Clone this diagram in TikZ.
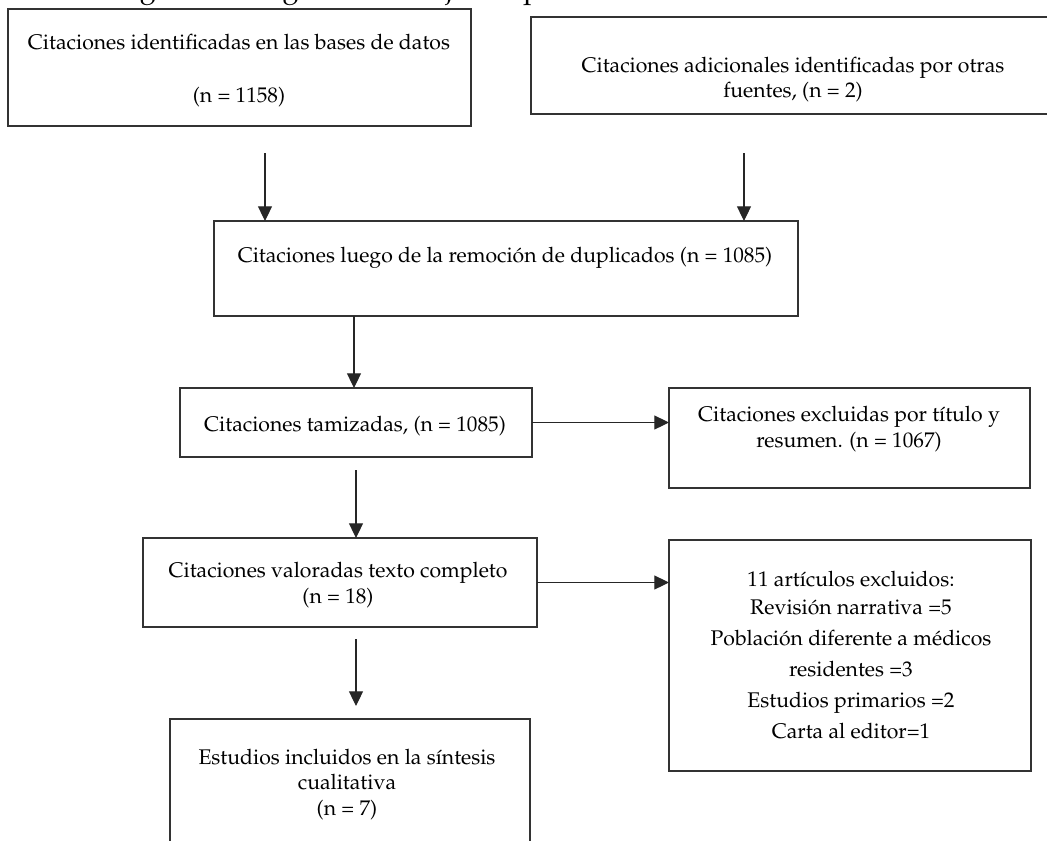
\documentclass[tikz,border=0pt]{standalone}
\usepackage[T1]{fontenc}
\usepackage{mathpazo}
\usetikzlibrary{arrows.meta,fit}
\begin{document}
\begin{tikzpicture}[x=0.75pt,y=-0.75pt,
  box/.style={draw=black!80, line width=0.8pt, inner sep=0pt, outer sep=0pt},
  lbl/.style={inner sep=0pt, anchor=base, font=\fontsize{15.9}{19}\selectfont, text=black},
  ttl/.style={inner sep=0pt, anchor=base west, font=\fontsize{21.75}{26}\selectfont, text=black},
  arr/.style={draw=black!85, line width=0.8pt, -{Triangle[width=10.5pt,length=11pt]}}
]
\useasboundingbox (0,0) rectangle (1047,840);
\clip (0,0) rectangle (1047,840);

% cut-off title
\node[ttl] (title) at (115,-3) {Figura 1. Diagrama de flujo del proceso de selecci\'on art\'{\i}culos};

% boxes
\node[box, fit={(8,9) (471,126)}] (t1) {};
\node[box, fit={(531,17) (1060,114)}] (t2) {};
\node[box, fit={(214,221) (798,316)}] (mid) {};
\node[box, fit={(180,388) (532,457)}] (tam) {};
\node[box, fit={(669,388) (1030,488)}] (ex1) {};
\node[box, fit={(143,538) (537,627)}] (val) {};
\node[box, fit={(669,540) (1031,771)}] (ex2) {};
\node[box, fit={(170,719) (530,860)}] (fin) {};

% texts
\node[lbl] (t1a) at (239,49) {Citaciones identificadas en las bases de datos};
\node[lbl] (t1b) at (239,102) {(n = 1158)};
\node[lbl] (t2a) at (793,72) {Citaciones adicionales identificadas por otras};
\node[lbl] (t2b) at (793,97) {fuentes, (n = 2)};
\node[lbl] (mida) at (505,262) {Citaciones luego de la remoci\'on de duplicados (n = 1085)};
\node[lbl] (tama) at (355,431) {Citaciones tamizadas, (n = 1085)};
\node[lbl] (ex1a) at (849,421) {Citaciones excluidas por t\'{\i}tulo y};
\node[lbl] (ex1b) at (849,447) {resumen. (n = 1067)};
\node[lbl] (vala) at (338,577) {Citaciones valoradas texto completo};
\node[lbl] (valb) at (338,603) {(n = 18)};
\node[lbl] (ex2a) at (851,586) {11 art\'{\i}culos excluidos:};
\node[lbl] (ex2b) at (851,614) {Revisi\'on narrativa =5};
\node[lbl] (ex2c) at (851,645) {Poblaci\'on diferente a m\'edicos};
\node[lbl] (ex2d) at (851,676) {residentes =3};
\node[lbl] (ex2e) at (851,707) {Estudios primarios =2};
\node[lbl] (ex2f) at (851,738) {Carta al editor=1};
\node[lbl] (fina) at (347,764) {Estudios incluidos en la s\'{\i}ntesis};
\node[lbl] (finb) at (347,789) {cualitativa};
\node[lbl] (finc) at (347,815) {(n = 7)};

% connectors
\coordinate (a1) at (265,153);
\coordinate (a2) at (744,153);
\coordinate (c1) at (354,0);
\coordinate (c2) at (356,0);
\coordinate (c3) at (356,0);
\draw[arr] (a1) -- (a1 |- mid.north);
\draw[arr] (a2) -- (a2 |- mid.north);
\draw[arr] (mid.south -| c1) -- (tam.north -| c1);
\draw[arr] ([yshift=-9.75pt]tam.south -| c2) -- (val.north -| c2);
\draw[arr] ([yshift=-9pt]val.south -| c3) -- ([yshift=9.75pt]fin.north -| c3);
\draw[arr] (tam.east) -- (tam.east -| ex1.west);
\draw[arr] (val.east) -- (val.east -| ex2.west);
\end{tikzpicture}
\end{document}
